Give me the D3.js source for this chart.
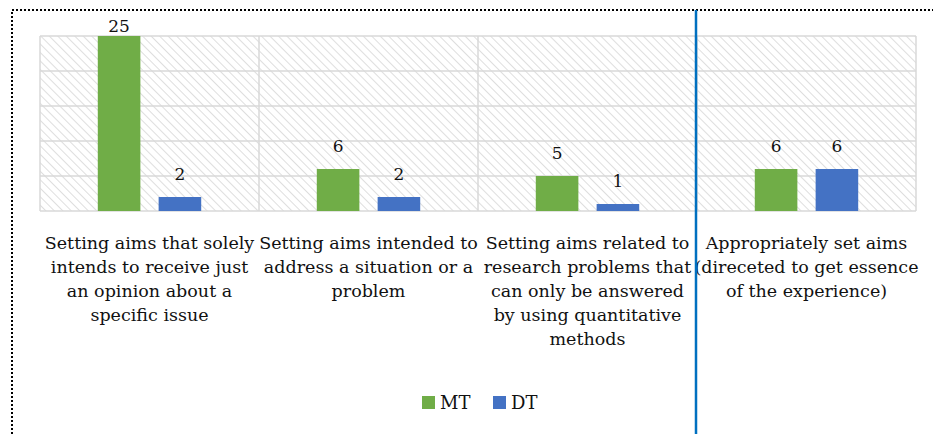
<!DOCTYPE html>
<html>
<head>
<meta charset="utf-8">
<script src="https://cdn.jsdelivr.net/npm/d3@7"></script>
<style>
  body { margin: 0; background: #fff; }
  text { font-family: "DejaVu Serif", "Liberation Serif", serif; fill: #111; }
</style>
</head>
<body>
<svg id="chart" width="933" height="434"></svg>
<script>
// data
const categories = [
  ["Setting aims that solely", "intends to receive just", "an opinion about a", "specific issue"],
  ["Setting aims intended to", "address a situation or a", "problem"],
  ["Setting aims related to", "research problems that", "can only be answered", "by using quantitative", "methods"],
  ["Appropriately set aims", "(direceted to get essence", "of the experience)"]
];
const seriesNames = ["MT", "DT"];
const mtValues = [25, 6, 5, 6];
const dtValues = [2, 2, 1, 6];
const yTicks = [0, 5, 10, 15, 20, 25];
const colors = ["#70ad47", "#4472c4"];

const svg = d3.select("#chart");
const width = 933, height = 434;
const margin = { left: 40, right: 17, top: 36, bottom: 223 };
const plotW = width - margin.left - margin.right;
const plotH = height - margin.top - margin.bottom;

// hatch pattern for plot background
const defs = svg.append("defs");
const pat = defs.append("pattern")
  .attr("id", "hatch")
  .attr("patternUnits", "userSpaceOnUse")
  .attr("width", 6).attr("height", 6)
  .attr("patternTransform", "rotate(-45)");
pat.append("line")
  .attr("x1", 0).attr("y1", 0).attr("x2", 0).attr("y2", 6)
  .attr("stroke", "#d6d6d6").attr("stroke-width", 1.6);

const x0 = d3.scaleBand()
  .domain(d3.range(categories.length))
  .range([0, plotW]);

const x1 = d3.scaleBand()
  .domain(seriesNames)
  .range([0, x0.bandwidth()])
  .paddingInner(0.3)
  .paddingOuter(0.95);

const y = d3.scaleLinear().domain([0, 25]).range([plotH, 0]);

const g = svg.append("g").attr("transform", `translate(${margin.left},${margin.top})`);

g.append("rect")
  .attr("width", plotW).attr("height", plotH)
  .attr("fill", "url(#hatch)");

// horizontal gridlines
g.selectAll(".hgrid").data(yTicks).enter().append("line")
  .attr("x1", 0).attr("x2", plotW)
  .attr("y1", d => y(d)).attr("y2", d => y(d))
  .attr("stroke", "#d9d9d9").attr("stroke-width", 1.5);

// vertical category dividers
g.selectAll(".vgrid").data(d3.range(categories.length + 1)).enter().append("line")
  .attr("x1", d => d * x0.step()).attr("x2", d => d * x0.step())
  .attr("y1", 0).attr("y2", plotH)
  .attr("stroke", "#d9d9d9").attr("stroke-width", 1.5);

const groups = g.selectAll(".cat").data(categories).enter().append("g")
  .attr("transform", (d, i) => `translate(${x0(i)},0)`);

groups.each(function(d, i) {
  const vals = [mtValues[i], dtValues[i]];
  const grp = d3.select(this);
  grp.selectAll("rect").data(vals).enter().append("rect")
    .attr("x", (v, j) => x1(seriesNames[j]))
    .attr("y", v => y(v))
    .attr("width", x1.bandwidth())
    .attr("height", v => plotH - y(v))
    .attr("fill", (v, j) => colors[j]);
  // labels sit above the bar, but the tallest one is pushed down to fit under the frame
  grp.selectAll(".val").data(vals).enter().append("text")
    .attr("x", (v, j) => x1(seriesNames[j]) + x1.bandwidth() / 2)
    .attr("y", v => Math.max(y(v) - 17, -4))
    .attr("text-anchor", "middle")
    .attr("font-size", 17)
    .text(v => v);

  const lab = grp.append("text")
    .attr("text-anchor", "middle")
    .attr("font-size", 17.5);
  lab.selectAll("tspan").data(d).enter().append("tspan")
    .attr("x", x0.bandwidth() / 2)
    .attr("y", (s, k) => plotH + 38 + k * 24)
    .text(s => s);
});

// legend
const legend = svg.append("g").attr("transform", "translate(422,396)");
seriesNames.forEach((s, i) => {
  const lg = legend.append("g").attr("transform", `translate(${i * 71},0)`);
  lg.append("rect").attr("width", 13).attr("height", 13).attr("fill", colors[i]);
  lg.append("text").attr("x", 18).attr("y", 13).attr("font-size", 18).text(s);
});

// dotted outer frame (top and left only)
svg.append("path")
  .attr("d", "M12,434 L12,10 L933,10")
  .attr("fill", "none")
  .attr("stroke", "#000")
  .attr("stroke-width", 2)
  .attr("stroke-dasharray", "2,2");

// blue divider line
svg.append("line")
  .attr("x1", margin.left + 3 * x0.step() - 1).attr("x2", margin.left + 3 * x0.step() - 1)
  .attr("y1", 10).attr("y2", height)
  .attr("stroke", "#0070c0").attr("stroke-width", 2.5);
</script>
</body>
</html>
